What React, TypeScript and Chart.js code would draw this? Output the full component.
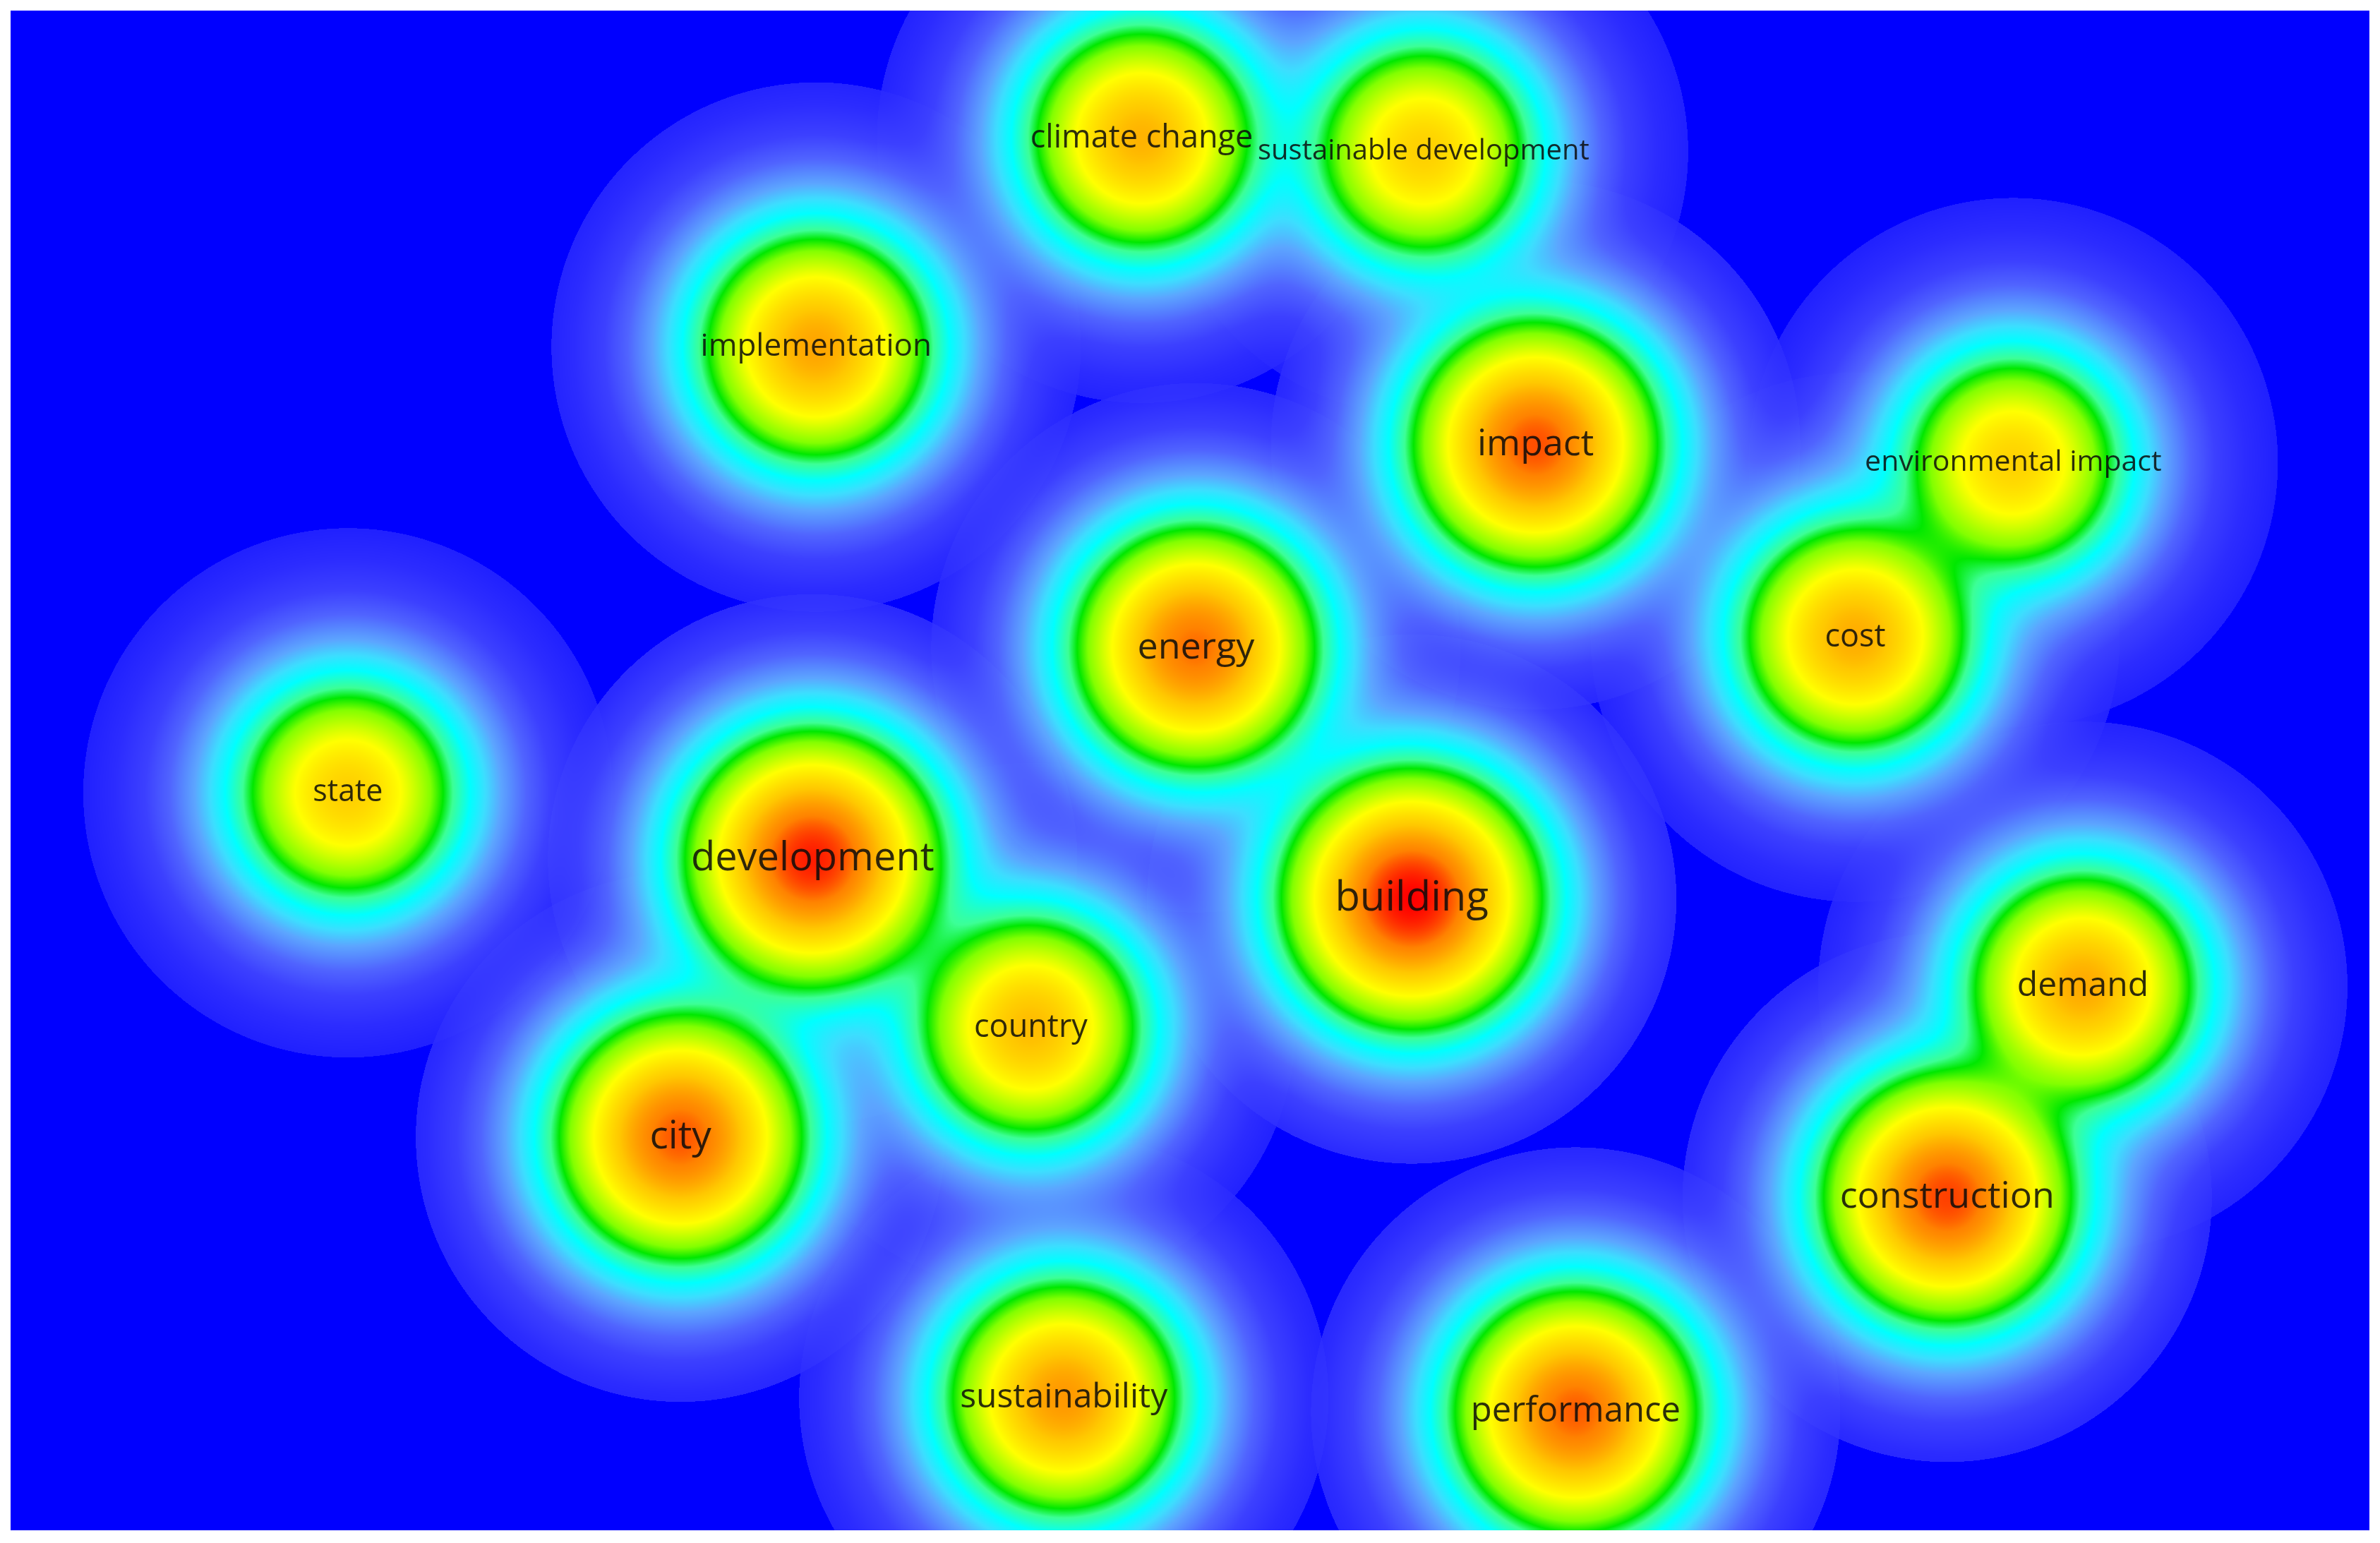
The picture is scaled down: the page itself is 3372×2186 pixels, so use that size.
import { useEffect, useRef } from "react";
import { Chart, registerables } from "chart.js";

Chart.register(...registerables);

// ---- data (map coordinates + density weight per term) ----
const terms = [
  "climate change",
  "sustainable development",
  "implementation",
  "impact",
  "environmental impact",
  "cost",
  "energy",
  "state",
  "development",
  "building",
  "demand",
  "country",
  "city",
  "construction",
  "sustainability",
  "performance",
];
const xValues = [-0.041, 0.198, -0.317, 0.293, 0.698, 0.564, 0.005, -0.714, -0.32, 0.188, 0.757, -0.135, -0.432, 0.642, -0.107, 0.327];
const yValues = [0.536, 0.525, 0.359, 0.276, 0.261, 0.113, 0.104, -0.019, -0.075, -0.109, -0.183, -0.218, -0.311, -0.362, -0.532, -0.544];
const weights = [0.4, 0.3, 0.45, 0.74, 0.29, 0.42, 0.66, 0.3, 0.9, 1.0, 0.43, 0.37, 0.72, 0.78, 0.5, 0.7];

// ---- styles ----
const labelSizes = [45, 40, 44, 52, 41, 45, 52, 43, 56, 58, 48, 45, 55, 52, 48, 49];
const KERNEL_DECAY = 0.01795; // map units (tail decay length)
const KERNEL_CORE = 0.0898; // map units (flat core)
const KERNEL_CUTOFF = 0.2244; // map units

// colour stops over ln(density)
const colorStops: [number, number, number, number][] = [
  [-10.5, 25, 25, 255],
  [-8.3, 44, 44, 255],
  [-7.0, 60, 64, 255],
  [-6.0, 80, 100, 255],
  [-5.0, 92, 165, 255],
  [-4.4, 60, 222, 255],
  [-3.85, 0, 255, 255],
  [-3.25, 60, 255, 150],
  [-2.93, 0, 232, 0],
  [-2.55, 130, 255, 0],
  [-1.79, 255, 255, 0],
  [-1.1, 255, 200, 0],
  [-0.5, 255, 130, 0],
  [0.0, 255, 0, 0],
];

const LUT_N = 2048;
const L_MIN = colorStops[0][0];
const L_MAX = colorStops[colorStops.length - 1][0];
function buildLut(): Uint8ClampedArray {
  const lut = new Uint8ClampedArray(LUT_N * 3);
  for (let i = 0; i < LUT_N; i++) {
    const t = L_MIN + ((L_MAX - L_MIN) * i) / (LUT_N - 1);
    let k = 0;
    while (k < colorStops.length - 2 && t > colorStops[k + 1][0]) k++;
    const a = colorStops[k];
    const b = colorStops[k + 1];
    const f = Math.max(0, Math.min(1, (t - a[0]) / (b[0] - a[0])));
    lut[i * 3] = a[1] + (b[1] - a[1]) * f;
    lut[i * 3 + 1] = a[2] + (b[2] - a[2]) * f;
    lut[i * 3 + 2] = a[3] + (b[3] - a[3]) * f;
  }
  return lut;
}

const densityPlugin = {
  id: "densityMap",
  beforeDatasetsDraw(chart: any) {
    const { ctx, chartArea, scales } = chart;
    const left = Math.round(chartArea.left);
    const top = Math.round(chartArea.top);
    const w = Math.round(chartArea.right) - left;
    const h = Math.round(chartArea.bottom) - top;
    const xs = scales.x;
    const pxPerUnit = Math.abs(xs.getPixelForValue(1) - xs.getPixelForValue(0));
    const lam = KERNEL_DECAY * pxPerUnit;
    const core = KERNEL_CORE * pxPerUnit;
    const core2 = core * core;
    const R = KERNEL_CUTOFF * pxPerUnit;
    const R2 = R * R;
    const dens = new Float64Array(w * h);
    const meta = chart.getDatasetMeta(0);
    meta.data.forEach((pt: any, i: number) => {
      const cx = pt.x - left;
      const cy = pt.y - top;
      const wt = weights[i];
      const x0 = Math.max(0, Math.floor(cx - R));
      const x1 = Math.min(w - 1, Math.ceil(cx + R));
      const y0 = Math.max(0, Math.floor(cy - R));
      const y1 = Math.min(h - 1, Math.ceil(cy + R));
      for (let y = y0; y <= y1; y++) {
        const dy = y + 0.5 - cy;
        const row = y * w;
        for (let x = x0; x <= x1; x++) {
          const dx = x + 0.5 - cx;
          const d2 = dx * dx + dy * dy;
          if (d2 <= R2) dens[row + x] += wt * Math.exp(-(Math.sqrt(d2 + core2) - core) / lam);
        }
      }
    });
    const lut = buildLut();
    const img = ctx.createImageData(w, h);
    const data = img.data;
    const scale = (LUT_N - 1) / (L_MAX - L_MIN);
    for (let i = 0; i < w * h; i++) {
      const v = dens[i];
      let r = 0, g = 0, b = 255;
      if (v > 0) {
        let li = Math.round((Math.log(v) - L_MIN) * scale);
        if (li < 0) li = 0;
        if (li > LUT_N - 1) li = LUT_N - 1;
        r = lut[li * 3];
        g = lut[li * 3 + 1];
        b = lut[li * 3 + 2];
      }
      data[i * 4] = r;
      data[i * 4 + 1] = g;
      data[i * 4 + 2] = b;
      data[i * 4 + 3] = 255;
    }
    ctx.putImageData(img, left, top);
  },
  afterDatasetsDraw(chart: any) {
    const { ctx } = chart;
    const meta = chart.getDatasetMeta(0);
    ctx.save();
    ctx.textAlign = "center";
    ctx.textBaseline = "middle";
    ctx.fillStyle = "rgba(10,10,10,0.85)";
    meta.data.forEach((pt: any, i: number) => {
      ctx.font = `${labelSizes[i]}px "Open Sans", "Noto Sans", sans-serif`;
      ctx.fillText(terms[i], pt.x, pt.y);
    });
    ctx.restore();
  },
};

export default function App() {
  const canvasRef = useRef<HTMLCanvasElement | null>(null);
  useEffect(() => {
    if (!canvasRef.current) return;
    const chart = new Chart(canvasRef.current, {
      type: "scatter",
      data: {
        datasets: [
          {
            label: "terms",
            data: terms.map((_, i) => ({ x: xValues[i], y: yValues[i] })),
            pointRadius: 0,
            pointHoverRadius: 0,
            backgroundColor: "rgba(0,0,0,0)",
          },
        ],
      },
      options: {
        responsive: false,
        animation: false,
        devicePixelRatio: 1,
        layout: { padding: { left: 15, top: 15, right: 15, bottom: 18 } },
        plugins: { legend: { display: false }, tooltip: { enabled: false } },
        events: [],
        scales: {
          x: { type: "linear", min: -1, max: 1, display: false },
          y: { type: "linear", min: -0.6443, max: 0.6443, display: false },
        },
      },
      plugins: [densityPlugin],
    });
    return () => chart.destroy();
  }, []);
  return (
    <div style={{ position: "fixed", left: 0, top: 0, width: 3372, height: 2186, background: "#ffffff" }}>
      <canvas ref={canvasRef} width={3372} height={2186} style={{ width: 3372, height: 2186, display: "block" }} />
    </div>
  );
}
